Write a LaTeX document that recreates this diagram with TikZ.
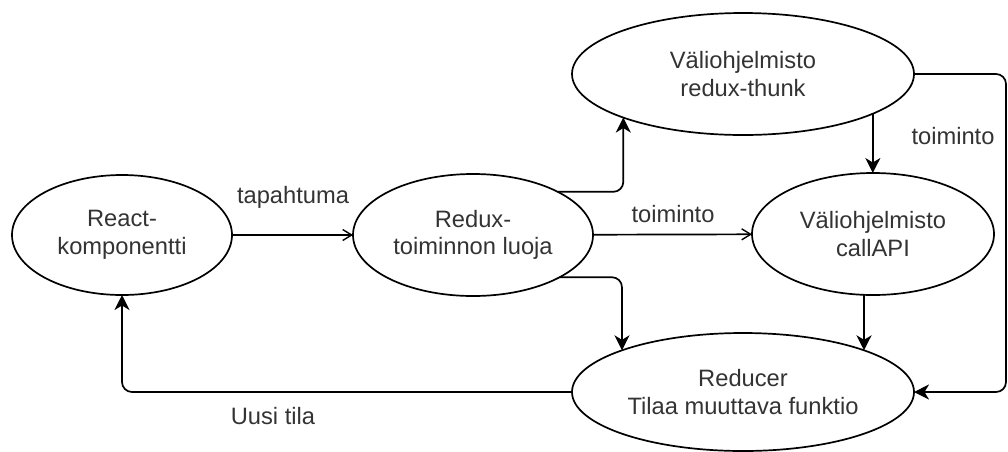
\documentclass[tikz,border=0pt]{standalone}
\usepackage{fontspec}
\setmainfont{Liberation Sans}
\usetikzlibrary{shapes.geometric,arrows.meta}
\definecolor{txt}{HTML}{333333}
\tikzset{
  oval/.style={ellipse, draw=black, line width=1.7pt, inner sep=0pt, outer sep=0pt,
    align=center, text=txt, font=\fontsize{23.7}{27.5}\selectfont},
  lbl/.style={text=txt, font=\fontsize{23.7}{27.5}\selectfont, inner sep=0pt},
  flow/.style={line width=1.7pt, rounded corners=10pt,
    -{Stealth[length=15pt,width=15pt,inset=4.5pt]}},
  openflow/.style={line width=1.7pt, -{Straight Barb[length=9pt,width=11pt,line width=1.4pt]}}
}
\begin{document}
\begin{tikzpicture}[x=1pt,y=-1pt]
\useasboundingbox (0,0) rectangle (1008,451);

% states
\node[oval, minimum width=220pt, minimum height=120pt] (react) at (122,235) {React-\\komponentti};
\node[oval, minimum width=240pt, minimum height=122pt] (redux) at (473,235) {Redux-\\toiminnon luoja};
\node[oval, minimum width=342pt, minimum height=122pt] (thunk) at (743,74) {Väliohjelmisto\\redux-thunk};
\node[oval, minimum width=242pt, minimum height=122pt] (callapi) at (873,234) {Väliohjelmisto\\callAPI};
\node[oval, minimum width=342pt, minimum height=118pt] (reducer) at (743,392) {Reducer\\Tilaa muuttava funktio};

% bend point of the outer loop
\coordinate (loop) at (1006,74);

% connectors
\draw[openflow] (react) -- (redux);
\draw[openflow] (redux) -- (callapi);
\draw[flow] (redux.27) -| (thunk.200);
\draw[flow] (redux.334) -| (reducer.161);
\draw[flow] (thunk.343) -- (thunk.343 |- callapi.north);
\draw[flow] (reducer.19 |- callapi.south) -- (reducer.19);
\draw[flow] (thunk.east) -- (loop) |- (reducer.east);
\draw[flow] (reducer.west) -| (react.south);

% labels
\node[lbl] (l1) at (293,197) {tapahtuma};
\node[lbl] (l2) at (673,214) {toiminto};
\node[lbl] (l3) at (953,136) {toiminto};
\node[lbl] (l4) at (273,416) {Uusi tila};
\end{tikzpicture}
\end{document}
